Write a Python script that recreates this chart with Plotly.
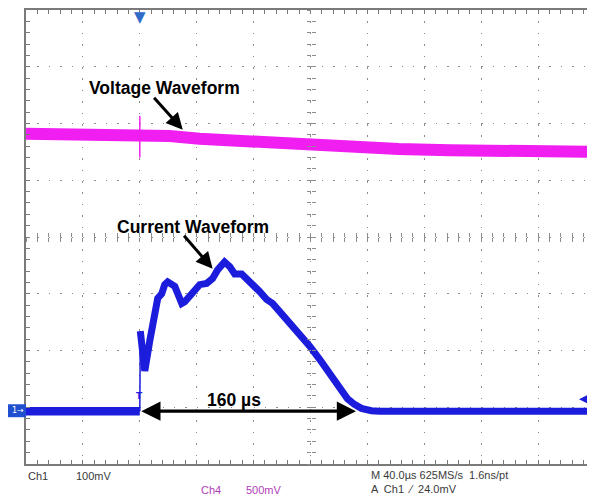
import plotly.graph_objects as go

# ---------------- data (screen divisions vs time in microseconds) ----------------
voltage_t = [-80, 0, 21, 42, 77, 112, 147, 182, 218, 253, 290, 320]
voltage_v = [1.82, 1.82, 1.78, 1.73, 1.68, 1.62, 1.57, 1.55, 1.53, 1.52, 1.51, 1.50]

voltage_glitch_t = [0, 0]
voltage_glitch_v = [2.13, 1.40]

current_t = [-80, -0.3, 0, 0.35, 3.5, 7.0, 10.5, 12.6, 15.4, 17.5, 19.6, 22.5, 24.6,
             26.7, 29.5, 31.6, 33.7, 37.2, 42.1, 47.0, 51.2, 54.7, 59.6, 63.2, 66.7,
             71.6, 75.1, 79.3, 84.2, 89.1, 93.3, 98.2, 103.2, 107.4, 112.3, 119.3,
             126.3, 133.3, 140.4, 146.0, 150.9, 155.8, 162.8, 168.4, 320]
current_v = [-3.07, -3.07, -3.07, -1.66, -2.36, -1.83, -1.36, -1.08, -1.00, -0.84, -0.79,
             -0.84, -0.87, -1.00, -1.17, -1.14, -1.08, -1.00, -0.84, -0.82, -0.73, -0.58,
             -0.44, -0.52, -0.65, -0.65, -0.73, -0.84, -0.96, -1.10, -1.17, -1.31, -1.45,
             -1.57, -1.71, -1.92, -2.15, -2.39, -2.66, -2.85, -2.95, -3.02, -3.06, -3.07,
             -3.07]
edge = 2  # index of the trigger edge (t = 0 on the baseline)

span_start, span_end = 0, 152          # measured span marker (µs)
baseline = -3.07

x_range = [-80, 320]
y_range = [-4, 4]

BLUE = "#1c1cdc"
MAGENTA = "#f01ef0"
GRID = "#8c8c8c"
FRAME = "#7a7a7a"

fig = go.Figure()

# voltage trace (thick band) + glitch
fig.add_trace(go.Scatter(x=voltage_t, y=voltage_v, mode="lines",
                         line=dict(color=MAGENTA, width=12), hoverinfo="skip"))
fig.add_trace(go.Scatter(x=voltage_glitch_t, y=voltage_glitch_v, mode="lines",
                         line=dict(color=MAGENTA, width=1.5), hoverinfo="skip"))

# current trace: baseline, thin trigger edge, pulse
fig.add_trace(go.Scatter(x=current_t[:edge + 1], y=current_v[:edge + 1], mode="lines",
                         line=dict(color=BLUE, width=8.5), hoverinfo="skip"))
fig.add_trace(go.Scatter(x=current_t[edge:edge + 2], y=current_v[edge:edge + 2], mode="lines",
                         line=dict(color=BLUE, width=1.5), hoverinfo="skip"))
fig.add_trace(go.Scatter(x=current_t[edge + 1:], y=current_v[edge + 1:], mode="lines",
                         line=dict(color=BLUE, width=7), hoverinfo="skip"))

# dummy traces for crosshair axes
fig.add_trace(go.Scatter(x=[None], y=[None], xaxis="x2", yaxis="y2", showlegend=False, hoverinfo="skip"))
fig.add_trace(go.Scatter(x=[None], y=[None], xaxis="x3", yaxis="y3", showlegend=False, hoverinfo="skip"))

# page body has an 8px margin: figure origin sits at screen (8, 8)
OFF = 8
W, H = 595 - OFF, 495 - OFF
L, R, T, B = 26 - OFF, 0, 0, 31
pw, ph = W - L - R, H - T - B


def px_x(px):
    return (px - OFF - L) / pw


def px_y(py):
    return (H - B - (py - OFF)) / ph


ann = []
# text labels
lab_font = dict(family="Liberation Sans, Arial", size=17.5, color="black")
ann.append(dict(x=17.5, y=2.62, xref="x", yref="y", text="<b>Voltage Waveform</b>",
                showarrow=False, font=lab_font, xanchor="center", yanchor="middle"))
ann.append(dict(x=37.2, y=0.17, xref="x", yref="y", text="<b>Current Waveform</b>",
                showarrow=False, font=lab_font, xanchor="center", yanchor="middle"))
ann.append(dict(x=66, y=-2.88, xref="x", yref="y", text="<b>160 µs</b>",
                showarrow=False, font=lab_font, xanchor="center", yanchor="middle"))
# pointer arrows
ann.append(dict(x=30.2, y=1.89, ax=9.1, ay=2.48, xref="x", yref="y", axref="x", ayref="y",
                text="", showarrow=True, arrowhead=2, arrowsize=1.1, arrowwidth=3, arrowcolor="black"))
ann.append(dict(x=51.2, y=-0.56, ax=30.2, ay=0.05, xref="x", yref="y", axref="x", ayref="y",
                text="", showarrow=True, arrowhead=2, arrowsize=1.1, arrowwidth=3, arrowcolor="black"))
# double arrow for the span
ann.append(dict(x=span_end, y=baseline, ax=span_start, ay=baseline, xref="x", yref="y",
                axref="x", ayref="y", text="", showarrow=True, arrowhead=2, startarrowhead=2,
                arrowside="end+start", arrowsize=1.2, startarrowsize=1.2, arrowwidth=3.2,
                arrowcolor="black"))

# scope markers
ann.append(dict(x=0, y=1, xref="x", yref="paper", text="▼", showarrow=False,
                font=dict(size=15, color="#2f6cc8", family="DejaVu Sans"),
                xanchor="center", yanchor="top", yshift=4))
ann.append(dict(x=0, y=-2.8, xref="x", yref="y", text="<b>T</b>", showarrow=False,
                font=dict(size=9, color=BLUE, family="DejaVu Sans"), xanchor="center", yanchor="middle"))
ann.append(dict(x=px_x(18), y=px_y(410.5), xref="paper", yref="paper", text="1→",
                showarrow=False, font=dict(size=8, color="white", family="DejaVu Sans"),
                xanchor="center", yanchor="middle"))
# trigger level marker on the right edge
ann.append(dict(x=px_x(579), y=px_y(399), xref="paper", yref="paper", ax=14, ay=0,
                text="", showarrow=True, arrowhead=2, arrowsize=1.3, arrowwidth=1.5,
                arrowcolor=BLUE))

# bottom status text
st = dict(family="Liberation Sans, Arial", size=11, color="#3a3a3a")
st4 = dict(family="Liberation Sans, Arial", size=11, color="#b040b8")
for txt, px, py, f in [("Ch1", 26, 476, st), ("100mV", 74, 476, st),
                       ("Ch4", 199, 490, st4), ("500mV", 244, 490, st4),
                       ("M 40.0µs 625MS/s  1.6ns/pt", 369, 475, st),
                       ("A  Ch1  ⁄  24.0mV", 369, 489, st)]:
    ann.append(dict(x=px_x(px), y=px_y(py), xref="paper", yref="paper", text=txt,
                    showarrow=False, font=f, xanchor="left", yanchor="middle"))

shapes = [dict(type="rect", xref="paper", yref="paper", x0=px_x(8), x1=px_x(26),
               y0=px_y(417), y1=px_y(404), fillcolor="#2050d0", line=dict(width=0), layer="above")]

axis_common = dict(showticklabels=False, zeroline=False)

fig.update_layout(
    width=W, height=H, margin=dict(l=L, r=R, t=T, b=B, pad=0),
    paper_bgcolor="white", plot_bgcolor="white", showlegend=False,
    xaxis=dict(range=x_range, dtick=40, tick0=-80, showgrid=True, gridcolor=GRID, gridwidth=1.2,
               griddash="1.5px,9.9px", showline=True, linecolor=FRAME, linewidth=1.5,
               mirror="ticks", ticks="inside", ticklen=4, tickcolor=FRAME,
               minor=dict(dtick=8, tick0=-80, ticks="inside", ticklen=4, tickcolor=FRAME, showgrid=False),
               **axis_common),
    yaxis=dict(range=y_range, dtick=1, tick0=-4, showgrid=True, gridcolor=GRID, gridwidth=1.2,
               griddash="1.5px,9.88px", showline=True, linecolor=FRAME, linewidth=1.5,
               mirror=False, ticks="inside", ticklen=4, tickcolor=FRAME,
               minor=dict(dtick=0.2, tick0=-4, ticks="inside", ticklen=4, tickcolor=FRAME, showgrid=False),
               **axis_common),
    xaxis2=dict(range=x_range, overlaying="x", anchor="free", position=0.5, side="bottom",
                showgrid=False, showline=False, ticks="inside", dtick=8, tick0=-80, ticklen=4,
                tickcolor=GRID, **axis_common),
    xaxis3=dict(range=x_range, overlaying="x", anchor="free", position=0.5, side="bottom",
                showgrid=False, showline=False, ticks="outside", dtick=8, tick0=-80, ticklen=4,
                tickcolor=GRID, **axis_common),
    yaxis2=dict(range=y_range, overlaying="y", anchor="free", position=0.5, side="left",
                showgrid=False, showline=False, ticks="inside", dtick=0.2, tick0=-4, ticklen=4,
                tickcolor=GRID, **axis_common),
    yaxis3=dict(range=y_range, overlaying="y", anchor="free", position=0.5, side="left",
                showgrid=False, showline=False, ticks="outside", dtick=0.2, tick0=-4, ticklen=4,
                tickcolor=GRID, **axis_common),
    annotations=ann, shapes=shapes,
)

fig.write_html("out.html")
